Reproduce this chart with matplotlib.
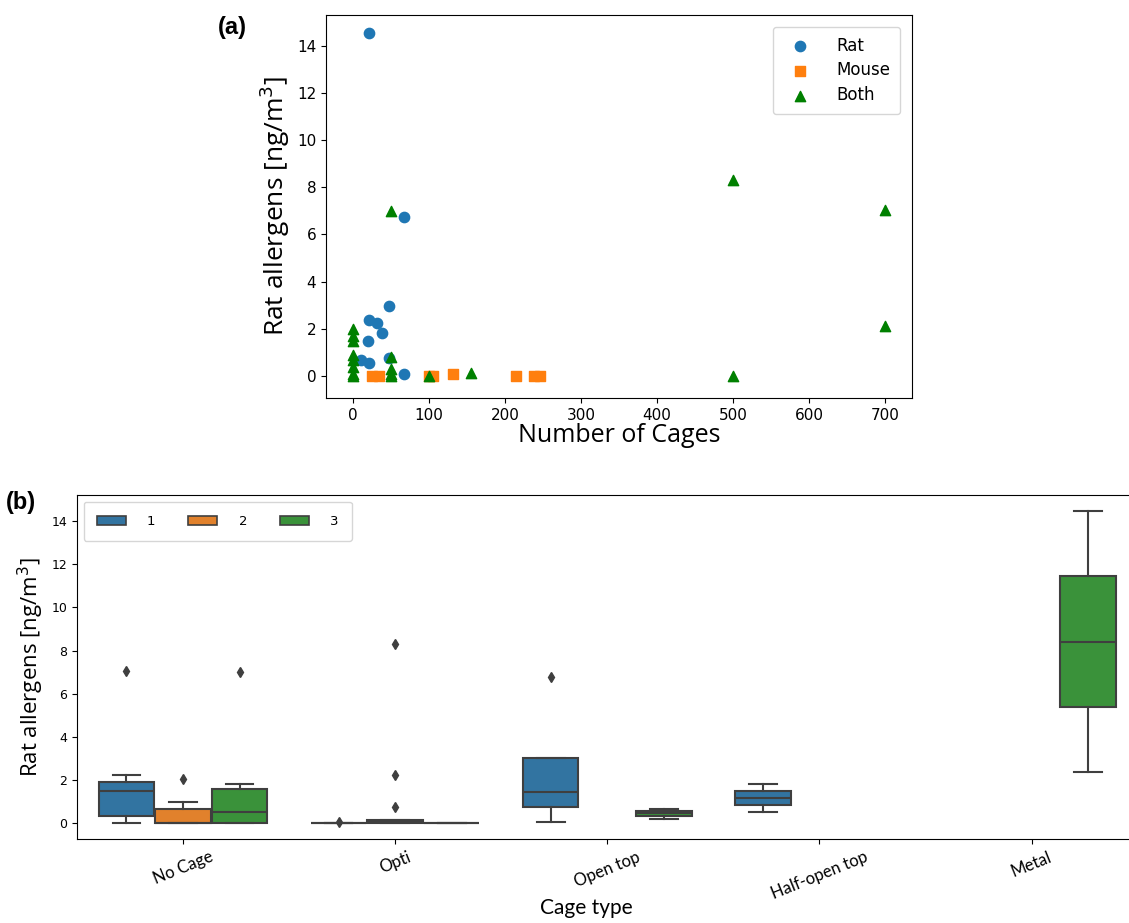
import numpy as np
import matplotlib.pyplot as plt
from matplotlib.patches import Patch

# ---- panel (a): allergen level vs number of cages
rat_cages = [22, 67, 48, 22, 32, 39, 20, 11, 21, 48, 67]
rat_allergen = [14.55, 6.76, 2.98, 2.38, 2.26, 1.81, 1.5, 0.7, 0.54, 0.75, 0.08]

mouse_cages = [26, 34, 100, 106, 132, 215, 238, 246]
mouse_allergen = [0.0, 0.0, 0.0, 0.0, 0.08, 0.0, 0.0, 0.0]

both_cages = [0, 0, 0, 0, 0, 0, 0, 0, 50, 50, 50, 50, 50, 100, 155, 500, 500, 700, 700]
both_allergen = [0.0, 0.1, 0.4, 0.7, 0.9, 1.5, 1.7, 2.0, 7.0, 0.8, 0.3, 0.1, 0.0,
                 0.0, 0.15, 8.3, 0.0, 7.05, 2.1]

# ---- panel (b): box stats per cage type and group
cage_types = ["No Cage", "Opti", "Open top", "Half-open top", "Metal"]
groups = ["1", "2", "3"]
box_cat = [0, 0, 0, 1, 1, 1, 2, 2, 3, 4]
box_group = [0, 1, 2, 0, 1, 2, 0, 2, 0, 2]
box_q1 = [0.34, 0.0, 0.0, 0.0, 0.0, 0.0, 0.75, 0.34, 0.85, 5.37]
box_med = [1.51, 0.0, 0.51, 0.0, 0.05, 0.0, 1.46, 0.46, 1.16, 8.41]
box_q3 = [1.9, 0.65, 1.59, 0.0, 0.15, 0.0, 3.04, 0.57, 1.5, 11.45]
box_lo = [0.0, 0.0, 0.0, 0.0, 0.0, 0.0, 0.06, 0.2, 0.52, 2.36]
box_hi = [2.22, 0.97, 1.8, 0.0, 0.15, 0.0, 3.04, 0.66, 1.82, 14.47]
box_fliers = [[7.05], [2.04], [6.99], [0.07], [8.29, 2.24, 0.77], [], [6.79], [], [], []]

fig = plt.figure(figsize=(11.29, 9.23), dpi=100)

# (a)
ax1 = fig.add_axes([0.2888, 0.5688, 0.519, 0.415])
ax1.scatter(rat_cages, rat_allergen, marker="o", s=55, color="#1f77b4", label="Rat", zorder=3)
ax1.scatter(mouse_cages, mouse_allergen, marker="s", s=55, color="#ff7f0e", label="Mouse", zorder=3)
ax1.scatter(both_cages, both_allergen, marker="^", s=55, color="green", label="Both", zorder=3)
ax1.set_xlim(-35, 735)
ax1.set_ylim(-0.93, 15.3)
ax1.set_xticks(np.arange(0, 701, 100))
ax1.set_yticks(np.arange(0, 15, 2))
ax1.tick_params(labelsize=11)
ax1.set_xlabel("Number of Cages", fontsize=18, family="Open Sans", labelpad=0)
ax1.set_ylabel("Rat allergens [ng/m$^3$]", fontsize=19, family="Open Sans", labelpad=4)
ax1.legend(loc="upper right", fontsize=12, borderpad=0.6, labelspacing=0.4,
           handletextpad=1.2, borderaxespad=0.7)
fig.text(0.193, 0.963, "(a)", fontsize=17, fontweight="bold", family="Liberation Sans")

# (b)
pal = ["#3274a1", "#e1812c", "#3a923a"]
edge = "#3f3f3f"
ax2 = fig.add_axes([0.0682, 0.0907, 0.9394, 0.373])
w = 0.8 / 3
for i in range(len(box_cat)):
    st = dict(q1=box_q1[i], med=box_med[i], q3=box_q3[i],
              whislo=box_lo[i], whishi=box_hi[i], fliers=box_fliers[i])
    pos = box_cat[i] + (box_group[i] - 1) * w
    ax2.bxp([st], positions=[pos], widths=w * 0.98, patch_artist=True,
            showfliers=True, manage_ticks=False,
            boxprops=dict(facecolor=pal[box_group[i]], edgecolor=edge, linewidth=1.5),
            medianprops=dict(color=edge, linewidth=1.5),
            whiskerprops=dict(color=edge, linewidth=1.5),
            capprops=dict(color=edge, linewidth=1.5),
            flierprops=dict(marker="d", markerfacecolor=edge, markeredgecolor=edge,
                            markersize=5))
ax2.set_xlim(-0.5, 4.5)
ax2.set_ylim(-0.74, 15.2)
ax2.set_xticks(range(len(cage_types)))
ax2.set_xticklabels(cage_types, rotation=22, fontsize=12, family="Lato")
ax2.set_yticks(np.arange(0, 15, 2))
ax2.tick_params(axis="y", labelsize=9)
ax2.spines["right"].set_visible(False)
ax2.set_xlabel("Cage type", fontsize=15, family="Lato")
ax2.xaxis.set_label_coords(0.48, -0.17)
ax2.set_ylabel("Rat allergens [ng/m$^3$]", fontsize=16, family="Open Sans")
handles = [Patch(facecolor=pal[k], edgecolor=edge, linewidth=1.2) for k in range(3)]
ax2.legend(handles, groups, loc="upper left", ncol=3, fontsize=9.5, handlelength=2.2,
           handleheight=0.7, handletextpad=1.6, columnspacing=2.5, borderpad=1.0,
           borderaxespad=0.5)
fig.text(0.005, 0.448, "(b)", fontsize=17, fontweight="bold", family="Liberation Sans")

fig.savefig("out.png", dpi=100)
